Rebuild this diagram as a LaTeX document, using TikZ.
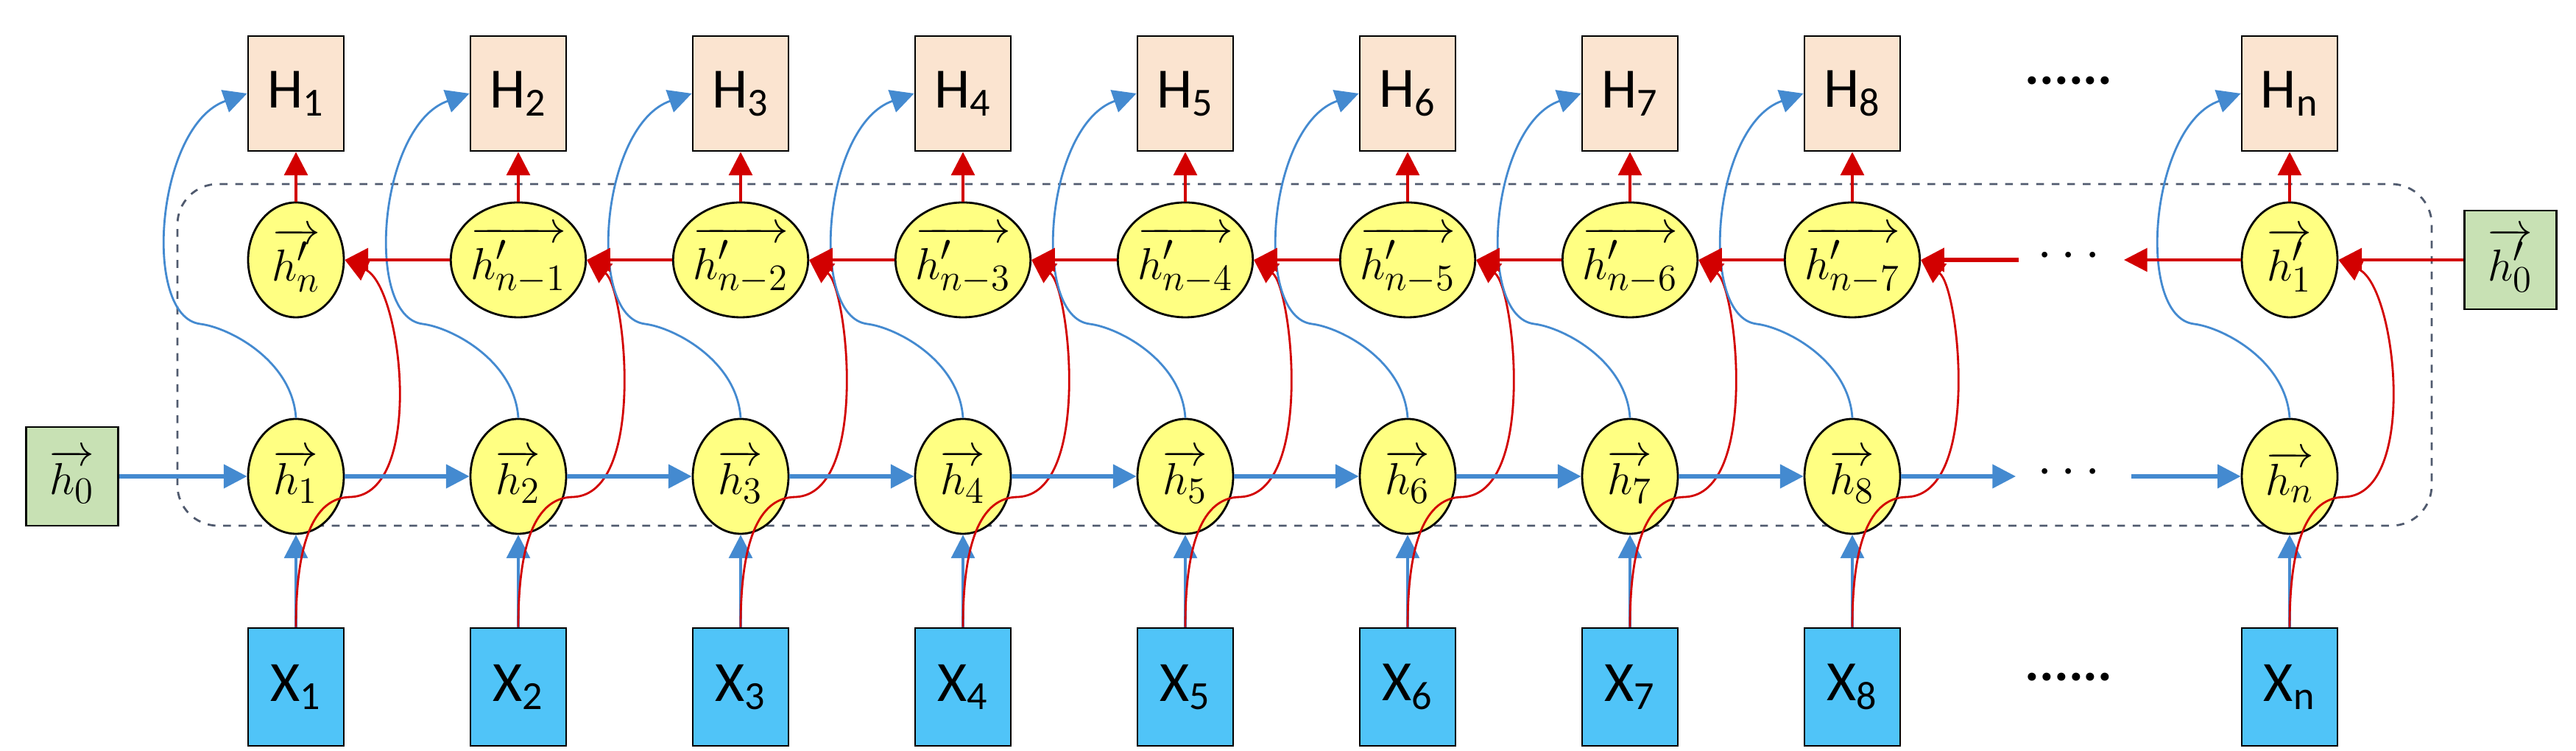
\documentclass[tikz,border=0pt]{standalone}
\usepackage{fontspec}
\setmainfont{Carlito}
\usetikzlibrary{arrows.meta, positioning, shapes.geometric}
\definecolor{fwdblue}{RGB}{68,138,208}
\definecolor{bwdred}{RGB}{210,0,0}
\definecolor{cellyellow}{RGB}{255,255,130}
\definecolor{outpeach}{RGB}{251,228,208}
\definecolor{inblue}{RGB}{80,196,248}
\definecolor{initgreen}{RGB}{200,225,180}
\definecolor{boxgray}{RGB}{80,90,110}
\tikzset{
	>={Triangle[length=9pt,width=9pt]}, % puntas llenas
	cell/.style={ellipse, draw, thick, fill=cellyellow, minimum width=1.3cm, minimum height=1.56cm, inner sep=0pt, font=\fontsize{19}{22}\selectfont},
	outbox/.style={draw, thick, fill=outpeach, minimum width=1.3cm, minimum height=1.56cm, font=\fontsize{22}{24}\selectfont},
	inbox/.style={draw, thick, fill=inblue, minimum width=1.3cm, minimum height=1.6cm, font=\fontsize{22}{24}\selectfont},
	initbox/.style={draw, thick, fill=initgreen, minimum width=1.25cm, minimum height=1.34cm, font=\fontsize{19}{22}\selectfont},
	chain/.style={->, line width=1.5pt},
	link/.style={->, line width=1.1pt},
	skip/.style={->, line width=0.8pt},
	dots/.style={font=\fontsize{21}{24}\bfseries\selectfont}
}
\begin{document}
\begin{tikzpicture}
	\useasboundingbox (0,0) rectangle (34.99,10.2);
	% caja punteada
	\draw[dashed, thick, boxgray, rounded corners=0.55cm] (2.41,3.06) rectangle (33.03,7.70);
	% estados iniciales
	\node[initbox] (f0) at (0.98,3.73) {$\overrightarrow{h_0}$};
	\node[initbox] (b0) at (34.1,6.67) {$\overrightarrow{h'_0}$};
	% columnas
	\foreach \i/\x/\k in {1/4.02/n, 2/7.04/{n-1}, 3/10.06/{n-2}, 4/13.08/{n-3}, 5/16.10/{n-4}, 6/19.12/{n-5}, 7/22.14/{n-6}, 8/25.16/{n-7}, n/31.1/1}{
		\node[inbox] (X\i) at (\x,0.87) {X\textsubscript{\i}};
		\node[cell] (f\i) at (\x,3.73) {$\overrightarrow{h_{\i}}$};
		\node[cell] (b\i) at (\x,6.67) {$\overrightarrow{h'_{\k}}$};
		\node[outbox] (H\i) at (\x,8.93) {H\textsubscript{\i}};
		\draw[fwdblue, link] (X\i) -- (f\i);
		\draw[bwdred, link] (b\i) -- (H\i);
		\draw[fwdblue, skip] (f\i.north) .. controls (\x-0.05,5.3) and (\x-0.9,5.75) .. (\x-1.3,5.8)
			.. controls (\x-2.1,5.9) and (\x-1.9,8.5) .. (H\i.west);
		\draw[bwdred, skip] (X\i.north) .. controls (\x,2.6) and (\x+0.15,3.45) .. (\x+0.75,3.45)
			.. controls (\x+1.75,3.5) and (\x+1.45,6.3) .. (b\i.east);
	}
	% cadena hacia adelante
	\foreach \a/\b in {0/1, 1/2, 2/3, 3/4, 4/5, 5/6, 6/7, 7/8}
		\draw[fwdblue, chain] (f\a) -- (f\b);
	\coordinate (fgapL) at (27.38,3.73);
	\coordinate (fgapR) at (28.95,3.73);
	\draw[fwdblue, chain] (f8) -- (fgapL);
	\draw[fwdblue, chain] (fgapR) -- (fn);
	\node[dots] (fdots) at (28.1,3.78) {$\cdots$};
	% cadena hacia atras
	\foreach \a/\b in {1/2, 2/3, 3/4, 4/5, 5/6, 6/7, 7/8}
		\draw[bwdred, link] (b\b) -- (b\a);
	\draw[bwdred, link] (b0) -- (bn);
	\coordinate (bgapL) at (27.42,6.67);
	\coordinate (bgapR) at (28.85,6.67);
	\draw[bwdred, link] (bn) -- (bgapR);
	\draw[bwdred, chain] (bgapL) -- (b8);
	\node[dots] (bdots) at (28.1,6.72) {$\cdots$};
	% puntos en filas externas
	\node[dots] (Hdots) at (28.1,9.1) {......};
	\node[dots] (Xdots) at (28.1,1.0) {......};
\end{tikzpicture}
\end{document}
